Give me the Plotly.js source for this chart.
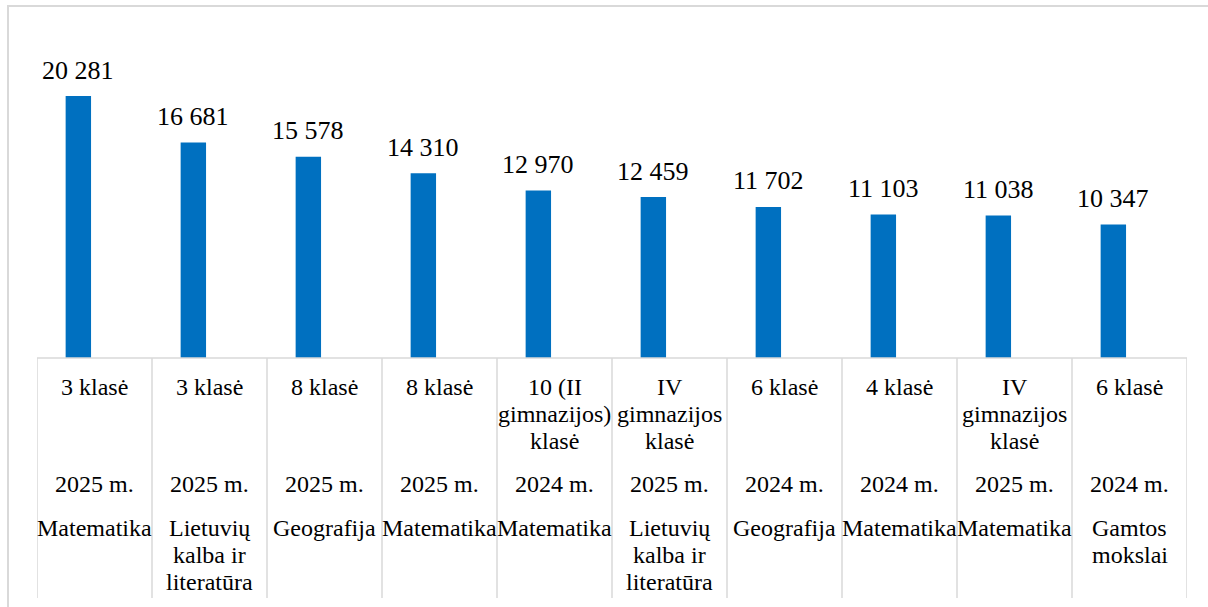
<!DOCTYPE html>
<html>
<head>
<meta charset="utf-8">
<script src="https://cdn.plot.ly/plotly-3.0.1.min.js"></script>
<style>
  html, body { margin: 0; padding: 0; background: #fff; }
  #wrap { position: relative; width: 1208px; height: 607px; }
  #chart { position: absolute; left: 0; top: 0; width: 1208px; height: 607px; }
  #frame { position: absolute; left: 7px; top: 5px; right: 0; bottom: 0;
           border-left: 2px solid #d9d9d9; border-top: 2px solid #d9d9d9; pointer-events: none; }
</style>
</head>
<body>
<div id="wrap"><div id="chart"></div><div id="frame"></div></div>
<script>
// ---- data ----
const classes = ["3 klasė", "3 klasė", "8 klasė", "8 klasė", "10 (II<br>gimnazijos)<br>klasė",
                 "IV<br>gimnazijos<br>klasė", "6 klasė", "4 klasė", "IV<br>gimnazijos<br>klasė", "6 klasė"];
const years = ["2025 m.", "2025 m.", "2025 m.", "2025 m.", "2024 m.",
               "2025 m.", "2024 m.", "2024 m.", "2025 m.", "2024 m."];
const subjects = ["Matematika", "Lietuvių<br>kalba ir<br>literatūra", "Geografija", "Matematika", "Matematika",
                  "Lietuvių<br>kalba ir<br>literatūra", "Geografija", "Matematika", "Matematika", "Gamtos<br>mokslai"];
const values = [20281, 16681, 15578, 14310, 12970, 12459, 11702, 11103, 11038, 10347];

// ---- layout helpers ----
const W = 1208, H = 607;
const M = { l: 37, r: 21, t: 30, b: 249 };
const plotH = H - M.t - M.b;
const axisY = H - M.b;
const idx = values.map((_, i) => i);
const fmt = v => String(v).replace(/\B(?=(\d{3})+(?!\d))/g, " ");
const FONT = "Liberation Serif";

const annotations = [];
// value labels
values.forEach((v, i) => {
  annotations.push({
    x: i - 0.251 + 0.1105, y: v, xref: "x", yref: "y",
    text: fmt(v), showarrow: false, yanchor: "middle", xanchor: "center",
    yshift: 26, font: { family: FONT, size: 26, color: "#000" }
  });
});
// category table rows: each line placed separately
const LINE = 27;
function addRow(labels, firstCenterY) {
  labels.forEach((lab, i) => {
    lab.split("<br>").forEach((ln, k) => {
      annotations.push({
        x: i, y: 0, xref: "x", yref: "paper", text: ln, showarrow: false,
        xanchor: "center", yanchor: "middle",
        yshift: -(firstCenterY + k * LINE - axisY),
        font: { family: FONT, size: 24, color: "#000" }
      });
    });
  });
}
addRow(classes, 387);
addRow(years, 484);
addRow(subjects, 528);

const shapes = [];
const gridBottom = -(598 - axisY) / plotH;
for (let i = 0; i <= values.length; i++) {
  shapes.push({ type: "line", xref: "x", yref: "paper", x0: i - 0.5, x1: i - 0.5, y0: 0, y1: gridBottom,
                line: { color: "#d9d9d9", width: 1.5 } });
}
shapes.push({ type: "line", xref: "x", yref: "paper", x0: -0.5, x1: values.length - 0.5, y0: 0, y1: 0,
              line: { color: "#d9d9d9", width: 1.5 } });

const trace = {
  type: "bar", x: idx, y: values,
  width: 0.221, offset: -0.251,
  marker: { color: "#0070C0", line: { width: 0 } },
  hoverinfo: "skip"
};

const layout = {
  width: W, height: H,
  margin: M,
  paper_bgcolor: "rgba(0,0,0,0)", plot_bgcolor: "rgba(0,0,0,0)",
  showlegend: false,
  xaxis: { range: [-0.5, values.length - 0.5], showticklabels: false, showgrid: false,
           zeroline: false, showline: false, ticks: "" , fixedrange: true},
  yaxis: { range: [0, 25400], showticklabels: false, showgrid: false, zeroline: false,
           showline: false, ticks: "", fixedrange: true },
  annotations: annotations,
  shapes: shapes,
  font: { family: FONT }
};

Plotly.newPlot("chart", [trace], layout, { staticPlot: true, displayModeBar: false });
</script>
</body>
</html>
